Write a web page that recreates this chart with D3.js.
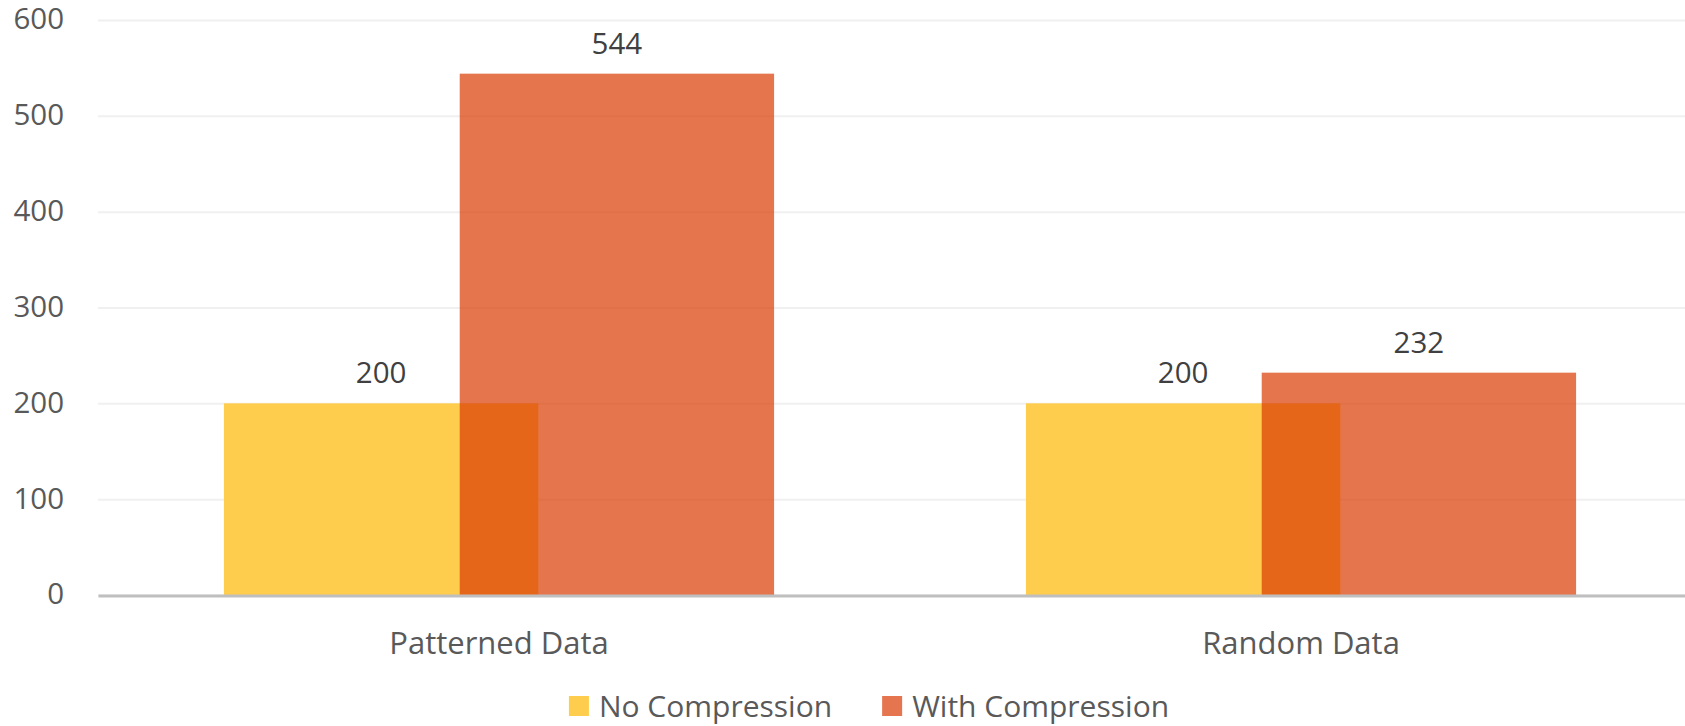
<!DOCTYPE html>
<html>
<head>
<meta charset="utf-8">
<script src="https://cdn.jsdelivr.net/npm/d3@7"></script>
<style>
  html, body { margin: 0; padding: 0; background: #ffffff; }
  svg { display: block; }
  text { font-family: "Open Sans", "Noto Sans", sans-serif; }
</style>
</head>
<body>
<svg id="chart" width="1685" height="726"></svg>
<script>
// ---- data ----
const categories = ["Patterned Data", "Random Data"];
const seriesNames = ["No Compression", "With Compression"];
const noCompression = [200, 200];
const withCompression = [544, 232];
const yTicks = [0, 100, 200, 300, 400, 500, 600];

// ---- styles ----
const colors = ["#FECD4D", "rgba(218,58,2,0.7)"];
const legendColors = ["#FECD4D", "#E5754E"];
const numSize = 29.5;
const catSize = 31;
const legSize = 30;

const svg = d3.select("#chart");
const plot = { left: 98, right: 1702, top: 20, bottom: 595 };

const x = d3.scaleBand().domain(categories).range([plot.left, plot.right]).paddingInner(0).paddingOuter(0);
const y = d3.scaleLinear().domain([0, 600]).range([plot.bottom, plot.top]);

// gridlines
const yAxis = d3.axisLeft(y).tickValues(yTicks).tickSize(-(plot.right - plot.left)).tickPadding(34).tickFormat(d3.format("d"));
const gy = svg.append("g").attr("transform", `translate(${plot.left},0)`).call(yAxis);
gy.select(".domain").remove();
gy.selectAll(".tick line").attr("stroke", "#F0F0F0").attr("stroke-width", 2);
gy.selectAll(".tick text").attr("fill", "#595959").attr("font-size", numSize).attr("dy", "0.3em");

// bar geometry: bar width fraction & negative gap
const barW = x.bandwidth() * 0.392;
const gap = -0.25 * barW;
const groupW = barW * 2 + gap;
const sub = d3.scaleOrdinal().domain([0, 1]).range([0, barW + gap]);

const seriesData = [noCompression, withCompression];
seriesData.forEach((vals, si) => {
  const g = svg.append("g");
  g.selectAll("rect").data(vals).join("rect")
    .attr("x", (d, i) => x(categories[i]) + (x.bandwidth() - groupW) / 2 + sub(si))
    .attr("width", barW)
    .attr("y", d => y(d))
    .attr("height", d => y(0) - y(d))
    .attr("fill", colors[si]);
});

// axis line
const xAxis = d3.axisBottom(x).tickSize(0).tickPadding(36);
const gx = svg.append("g").attr("transform", `translate(0,${plot.bottom + 0.5})`).call(xAxis);
gx.select(".domain").attr("stroke", "#BFBFBF").attr("stroke-width", 3);
gx.selectAll(".tick text").attr("fill", "#595959").attr("font-size", catSize);

// value labels
seriesData.forEach((vals, si) => {
  svg.append("g").selectAll("text").data(vals).join("text")
    .attr("x", (d, i) => x(categories[i]) + (x.bandwidth() - groupW) / 2 + sub(si) + barW / 2)
    .attr("y", d => y(d) - 20)
    .attr("text-anchor", "middle")
    .attr("fill", "#404040")
    .attr("font-size", numSize)
    .text(d => d);
});

// legend
const lg = svg.append("g");
const items = lg.selectAll("g").data(seriesNames).join("g");
items.append("rect").attr("width", 20).attr("height", 20).attr("y", 696)
  .attr("fill", (d, i) => legendColors[i]);
items.append("text").attr("y", 717).attr("font-size", legSize).attr("fill", "#595959").text(d => d);
const widths = [];
items.each(function() { widths.push(d3.select(this).select("text").node().getComputedTextLength()); });
const itemGap = 50;
const total = widths.reduce((a, w) => a + 30 + w, 0) + itemGap;
let start = 869 - total / 2;
items.each(function(d, i) {
  const s = d3.select(this);
  s.select("rect").attr("x", start);
  s.select("text").attr("x", start + 30);
  start += 30 + widths[i] + itemGap;
});
</script>
</body>
</html>
